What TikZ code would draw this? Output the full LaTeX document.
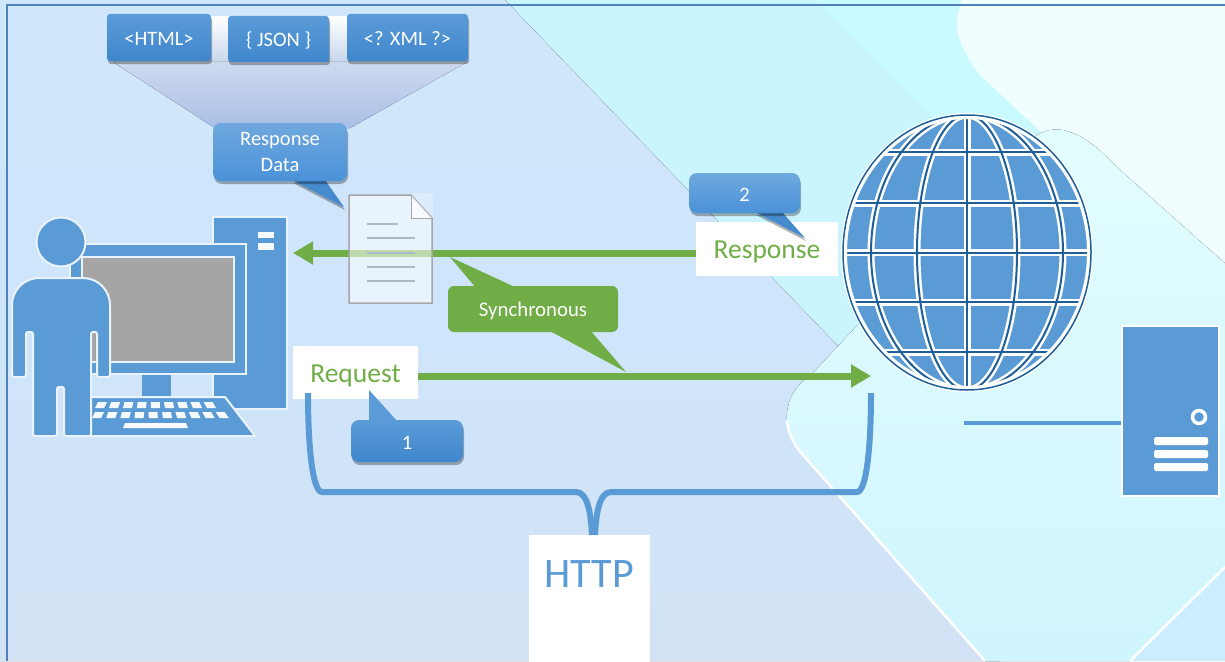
\documentclass[tikz,border=0pt]{standalone}
\usepackage{fontspec}
\setmainfont{Carlito}
\usepackage{tikz}
\usetikzlibrary{arrows.meta}
\usetikzlibrary{shadows}

\definecolor{iconblue}{HTML}{5B9BD5}
\definecolor{darkblue}{HTML}{1F5F99}
\definecolor{greenok}{HTML}{70AD47}
\definecolor{iconedge}{HTML}{EAF3FB}
\definecolor{boxtop}{HTML}{5B9CD8}
\definecolor{boxlow}{HTML}{3F86CC}
\definecolor{bubbletop}{HTML}{6FA8DE}
\definecolor{bubblelow}{HTML}{4A92D8}

\tikzset{
  softshadow/.style={drop shadow={shadow xshift=1pt, shadow yshift=-3pt, opacity=0.3, fill=black}},
  topbox/.style={rounded corners=3pt, top color=boxtop, bottom color=boxlow, softshadow, text=white, inner sep=0pt, font=\fontsize{20.5}{26}\selectfont},
  bubble/.style={rounded corners=8pt, top color=bubbletop, bottom color=bubblelow, softshadow, text=white, inner sep=0pt, align=center, font=\fontsize{20.5}{26}\selectfont},
  tailblue/.style={fill=bubblelow!95!black, softshadow},
  greenbubble/.style={rounded corners=6pt, fill=greenok, text=white, inner sep=0pt, font=\fontsize{20.8}{26}\selectfont},
  whitelabel/.style={fill=white, text=greenok, inner sep=0pt, font=\fontsize{27.5}{30}\selectfont},
  icon/.style={fill=iconblue, draw=iconedge, line width=2pt},
  keycap/.style={fill=white!95!iconblue},
  greenarrow/.style={draw=greenok, line width=7pt, -{Triangle[length=20pt, width=22pt]}},
  bracket/.style={draw=iconblue, line width=6pt}
}

\begin{document}
\begin{tikzpicture}[x=1pt, y=-1pt]
  \useasboundingbox (0, 0) rectangle (1225, 661);
  \clip (0, 0) rectangle (1225, 661);

  % background panels
  \fill [color={rgb,255:red,202;green,245;blue,254}] (0, 0) rectangle (1225, 661);
  \fill [color={rgb,255:red,201;green,250;blue,255}] (815, 0) -- (960, 0) -- (1060, 130) -- (940, 125) -- cycle;
  \fill [top color={rgb,255:red,207;green,230;blue,251}, bottom color={rgb,255:red,210;green,226;blue,244}, middle color={rgb,255:red,207;green,229;blue,251}]
    (0, 0) -- (505, 0) -- (837, 345) -- (1000, 661) -- (0, 661) -- cycle;
  \fill [color={rgb,255:red,240;green,254;blue,255}] (962, 0) .. controls (952, 25) and (957, 45) .. (980, 75) -- (1060, 150) -- (1225, 300) -- (1225, 0) -- cycle;
  \fill [top color={rgb,255:red,226;green,253;blue,254}, bottom color={rgb,255:red,208;green,245;blue,254}]
    (1063, 130) .. controls (1085, 135) and (1100, 150) .. (1120, 170) -- (1300, 330) -- (1300, 500) -- (1130, 661) -- (985, 661)
    -- (803, 455) .. controls (780, 430) and (780, 395) .. (813, 373) -- (1030, 140) .. controls (1040, 132) and (1050, 128) .. (1063, 130) -- cycle;
  \fill [color={rgb,255:red,203;green,237;blue,253}] (1130, 661) -- (1225, 567) -- (1225, 661) -- cycle;
  \draw [white, line width=2.5pt] (787, 420) .. controls (788, 435) and (795, 446) .. (803, 455) -- (985, 661);
  \draw [white, line width=2.5pt] (1130, 661) -- (1225, 567);

  % frame
  \draw [color={rgb,255:red,79;green,129;blue,189}, line width=2pt] (7, 661) -- (7, 5.5) -- (1225, 5.5);

  % data formats and the funnel under them
  \fill [top color=white, bottom color={rgb,255:red,200;green,214;blue,236}] (205, 17) rectangle (350, 62);
  \fill [top color={rgb,255:red,205;green,218;blue,240}, bottom color={rgb,255:red,170;green,191;blue,230}] (113, 62) -- (467, 62) -- (350, 128) -- (215, 128) -- cycle;
  \node (html) [topbox, text height=32pt, text depth=15pt, minimum width=104pt] at (159, 37.5) {<HTML>};
  \node (json) [topbox, text height=31pt, text depth=15pt, minimum width=101pt] at (278.5, 39) {\{ JSON \}};
  \node (xml) [topbox, text height=32pt, text depth=15pt, minimum width=121pt] at (407.5, 37.5) {<? XML ?>};

  % computer and user
  \fill [icon] (213, 217) rectangle (287, 409);
  \fill [white!95!iconblue] (258, 232) rectangle (274, 238);
  \fill [white!95!iconblue] (258, 243) rectangle (274, 250);
  \fill [icon] (70, 244) rectangle (246, 374);
  \draw [fill={rgb,255:red,165;green,165;blue,165}, draw=iconedge, line width=1.5pt] (82, 257) rectangle (234, 362);
  \fill [iconblue] (142, 375) rectangle (171, 396);
  \draw [icon] (90, 397) -- (225, 397) -- (255, 436) -- (90, 436) -- cycle;
  \foreach \i in {0,...,8} {
    \fill [keycap] ({98+13.2*\i}, 402) -- ({107+13.2*\i}, 402) -- ({104+14*\i}, 408) -- ({95+14*\i}, 408) -- cycle;
  }
  \foreach \i in {0,...,9} {
    \fill [keycap] ({95+13.4*\i}, 412) -- ({104+13.4*\i}, 412) -- ({101+14.2*\i}, 418) -- ({92+14.2*\i}, 418) -- cycle;
  }
  \fill [keycap] (125, 423) -- (186, 423) -- (188, 428) -- (123, 428) -- cycle;
  \draw [icon] (61, 242) circle (24.5);
  \draw [icon, rounded corners=2pt] (12, 377) [rounded corners=27pt] -- (12, 278) -- (110, 278) [rounded corners=2pt] -- (110, 377) -- (97, 377) -- (97, 332) -- (91, 332)
    -- (91, 436) -- (64, 436) -- (64, 387) -- (57, 387) -- (57, 436) -- (33, 436) -- (33, 332) -- (26, 332) -- (26, 377) -- cycle;

  % white labels on the arrows
  \coordinate (pc) at (293, 253);
  \coordinate (netin) at (871, 376);
  \node (response) [whitelabel, text height=36pt, text depth=18pt, minimum width=142pt] at (767, 249) {Response};
  \node (request) [whitelabel, text height=36pt, text depth=17pt, minimum width=125pt] at (355.5, 372.5) {Request};
  \draw [greenarrow] (response.west |- pc) -- (pc);
  \draw [greenarrow] (request.east |- netin) -- (netin);

  % document
  \fill [white, opacity=0.3] (411, 193) rectangle (433, 218);
  \draw [fill=white, fill opacity=0.55, draw={rgb,255:red,166;green,166;blue,166}, line width=1.5pt] (349, 195) -- (411, 195) -- (432, 218) -- (432, 303) -- (349, 303) -- cycle;
  \draw [draw={rgb,255:red,166;green,166;blue,166}, line width=1pt, fill=white, fill opacity=0.6] (411, 195) -- (411, 218) -- (432, 218);
  \draw [color={rgb,255:red,170;green,185;blue,200}, line width=1.5pt] (367, 224) -- (398, 224);
  \foreach \y in {238, 253, 267, 281} {
    \draw [color={rgb,255:red,170;green,185;blue,200}, line width=1.5pt] (367, \y) -- (415, \y);
  }

  % callouts
  \fill [tailblue] (292, 180) -- (344, 207) -- (325, 180) -- cycle;
  \node (respdata) [bubble, minimum width=134pt, minimum height=58pt] at (280, 152) {Response\\Data};
  \fill [tailblue] (755, 212) -- (805, 238) -- (782, 212) -- cycle;
  \node (two) [bubble, text height=28pt, text depth=12pt, minimum width=111pt] at (744.5, 193) {2};
  \fill [boxtop] (369, 390) -- (369, 422) -- (398, 422) -- cycle;
  \node (one) [bubble, top color=boxtop, bottom color=boxlow, text height=29pt, text depth=13pt, minimum width=112pt] at (407, 441) {1};

  \fill [greenok] (450, 257) -- (476, 288) -- (517, 288) -- cycle;
  \fill [greenok] (548, 330) -- (590, 330) -- (626, 372) -- cycle;
  \node (sync) [greenbubble, text height=30pt, text depth=16pt, minimum width=170pt] at (533, 309) {Synchronous};

  % globe
  \fill [white] (967, 252.5) ellipse (126 and 139.5);
  \fill [iconblue] (967, 252.5) ellipse (124 and 137.5);
  \begin{scope}
    \clip (967, 252.5) ellipse (124 and 137.5);
    \foreach \c/\w in {white/7, darkblue/2} {
      \draw [color=\c, line width=\w pt] (967, 100) -- (967, 400);
      \foreach \m in {50, 96} {
        \draw [color=\c, line width=\w pt] (967, 252.5) ellipse ({\m} and 137.5);
      }
      \foreach \y in {152, 203, 252.5, 302, 352} {
        \draw [color=\c, line width=\w pt] (830, \y) -- (1100, \y);
      }
    }
    \draw [white, line width=8pt] (967, 252.5) ellipse (124 and 137.5);
  \end{scope}
  \draw [darkblue, line width=1.5pt] (967, 252.5) ellipse (124 and 137.5);

  % server
  \node (server) [fill=iconblue, draw=white, line width=2.5pt, minimum width=97pt, minimum height=170pt, inner sep=0pt] at (1170.5, 411) {};
  \coordinate (netline) at (964, 423);
  \draw [iconblue, line width=3.5pt] (netline) -- (netline -| server.west);
  \draw [white, line width=3.5pt] (1199, 417) circle (6.5);
  \foreach \y in {437, 450, 463} {
    \fill [white, rounded corners=1.5pt] (1154, \y) rectangle (1208, \y + 8);
  }

  % HTTP bracket
  \node (http) [fill=white, text=iconblue, inner sep=0pt, text width=121pt, align=center, text height=52pt, text depth=78pt, anchor=north, font=\fontsize{42}{44}\selectfont] at (589.5, 535) {HTTP};
  \coordinate (bracketl) at (308, 393);
  \coordinate (bracketr) at (871, 393);
  \draw [bracket] (bracketl) .. controls (308, 450) and (313, 492) .. (322, 492) -- (576, 492)
    .. controls (588, 492) and (591, 515) .. (592, 535);
  \draw [bracket] (bracketr) .. controls (871, 450) and (866, 492) .. (857, 492) -- (611, 492)
    .. controls (599, 492) and (596, 515) .. (595, 535);
\end{tikzpicture}
\end{document}
